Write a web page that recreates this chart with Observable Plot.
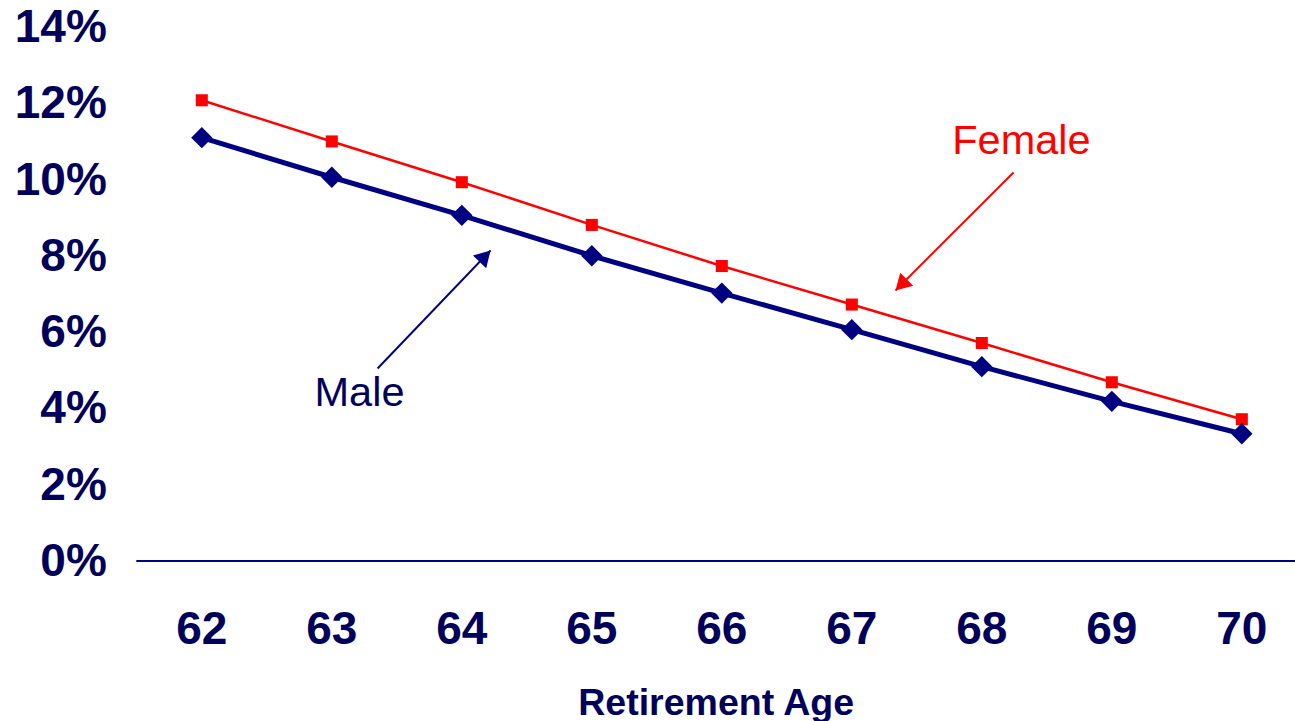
<!DOCTYPE html>
<html><head><meta charset="utf-8">
<script src="https://cdn.jsdelivr.net/npm/d3@7"></script>
<script src="https://cdn.jsdelivr.net/npm/@observablehq/plot@0.6"></script>
<style>body{margin:0;background:#fff;overflow:hidden}</style>
</head><body><div id="chart"></div>
<script>
// Data (percent by retirement age)
const ages = [62, 63, 64, 65, 66, 67, 68, 69, 70];
const femaleValues = [12.09, 11.01, 9.94, 8.82, 7.74, 6.73, 5.72, 4.69, 3.72];
const maleValues = [11.11, 10.07, 9.07, 8.01, 7.03, 6.07, 5.10, 4.19, 3.34];
const yTicks = [0, 2, 4, 6, 8, 10, 12, 14];
const xLabel = "Retirement Age";

// Annotation labels and arrows (data units)
const noteLabels = ["Female", "Male"];
const noteX = [68.305, 63.213];
const noteY = [11.04, 4.42];
const arrowX1 = [68.244, 63.352];
const arrowY1 = [10.197, 5.05];
const arrowX2 = [67.336, 64.221];
const arrowY2 = [7.10, 8.15];

const NAVY = "#000080";
const TEXT = "#00005a";
const RED = "#ff0000";

const female = ages.map((a, i) => ({age: a, value: femaleValues[i]}));
const male = ages.map((a, i) => ({age: a, value: maleValues[i]}));
const notes = noteLabels.map((t, i) => ({text: t, x: noteX[i], y: noteY[i], color: i === 0 ? RED : TEXT}));
const arrows = noteLabels.map((t, i) => ({
  name: t, x1: arrowX1[i], y1: arrowY1[i], x2: arrowX2[i], y2: arrowY2[i],
  color: i === 0 ? RED : NAVY
}));

const plot = Plot.plot({
  width: 1295,
  height: 721,
  marginLeft: 136.3,
  marginRight: 0,
  marginTop: 27,
  marginBottom: 160.5,
  style: {fontFamily: "'Liberation Sans', Arial, sans-serif", color: TEXT, background: "white", overflow: "visible"},
  x: {domain: [61.5, 70.413]},
  y: {domain: [0, 14]},
  marks: [
    Plot.axisY(yTicks, {tickSize: 0, tickPadding: 30, fontSize: 46, fontWeight: "bold", tickFormat: d => d + "%", label: null}),
    Plot.axisX(ages, {tickSize: 0, tickPadding: 50, fontSize: 46, fontWeight: "bold", tickFormat: d => String(d), label: null}),
    Plot.ruleY([0], {stroke: NAVY, strokeWidth: 2}),
    Plot.text([xLabel], {frameAnchor: "bottom", dy: 141.5, fontSize: 37.5, fontWeight: "bold", fill: TEXT, lineAnchor: "middle"}),
    Plot.line(female, {x: "age", y: "value", stroke: RED, strokeWidth: 2.5}),
    Plot.dot(female, {x: "age", y: "value", symbol: "square", r: 6.8, fill: RED, stroke: "none"}),
    Plot.line(male, {x: "age", y: "value", stroke: NAVY, strokeWidth: 5}),
    Plot.dot(male, {x: "age", y: "value", symbol: "diamond2", r: 9.6, fill: NAVY, stroke: "none"}),
    Plot.link(arrows, {x1: "x1", y1: "y1", x2: "x2", y2: "y2", stroke: "color", strokeWidth: 2}),
    Plot.dot(arrows.filter(d => d.name === "Female"), {x: "x2", y: "y2", symbol: "triangle", r: 6.8, fill: "color", stroke: "none", rotate: 225, dx: 7.5, dy: -7.5}),
    Plot.dot(arrows.filter(d => d.name === "Male"), {x: "x2", y: "y2", symbol: "triangle", r: 6.8, fill: "color", stroke: "none", rotate: 43.8, dx: -7.3, dy: 7.6}),
    Plot.text(notes, {x: "x", y: "y", text: "text", fill: "color", fontSize: 41.5, lineAnchor: "middle"})
  ]
});
document.getElementById("chart").appendChild(plot);
</script>
</body></html>
